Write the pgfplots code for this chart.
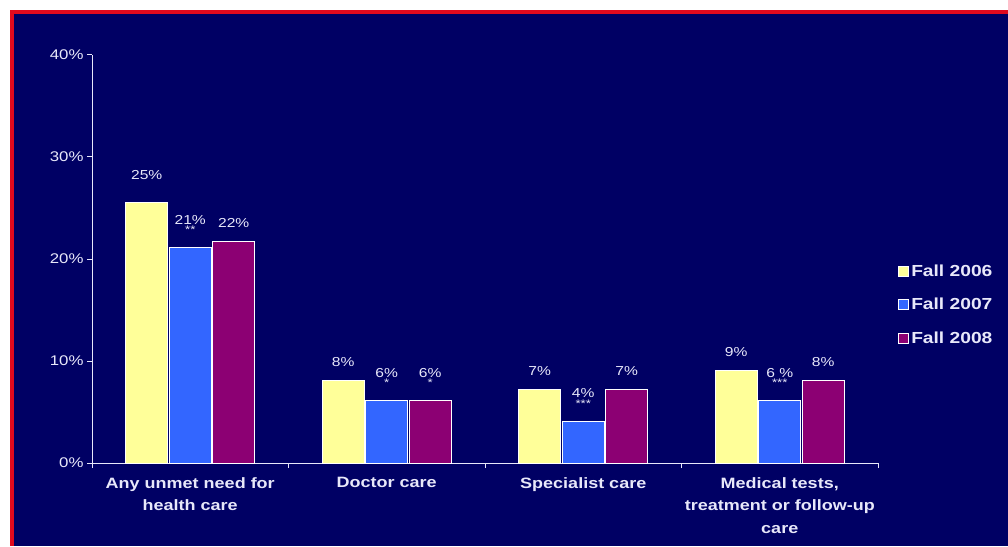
\documentclass[border=0pt]{standalone}
\usepackage{pgfplots}
\pgfplotsset{compat=1.18}
\usepackage{fontspec}
\setmainfont[FakeStretch=1.2]{Liberation Sans}
\definecolor{navy}{RGB}{0,0,100}
\definecolor{bordred}{RGB}{225,10,30}
\definecolor{txt}{RGB}{232,232,250}
\definecolor{yel}{RGB}{255,255,153}
\definecolor{blu}{RGB}{51,102,255}
\definecolor{pur}{RGB}{140,0,115}
\newcommand\lab[2]{\shortstack{#1\\[-1pt]{\fontsize{11}{11}\selectfont #2}}}
\begin{document}
\begin{tikzpicture}[x=1pt,y=1pt]
\fill[white] (0,0) rectangle (1008,546);
\fill[bordred] (10,0) rectangle (1008,536);
\fill[navy] (14,0) rectangle (1008,532);
\begin{axis}[
  at={(92pt,83pt)}, anchor=south west,
  scale only axis, width=786pt, height=408pt,
  xmin=-0.5, xmax=3.5, ymin=0, ymax=40,
  ybar=1.5pt, bar width=42pt,
  axis x line*=bottom, axis y line*=left,
  axis line style={txt, line width=1pt},
  tick style={txt, line width=1pt},
  tick align=outside, major tick length=5pt,
  xtick={-0.5,0.5,1.5,2.5,3.5},
  x tick label as interval,
  xticklabels={{Any unmet need for\\health care},{Doctor care},{Specialist care},{Medical tests,\\treatment or follow-up\\care}},
  x tick label style={font=\bfseries\fontsize{15}{22.5}\selectfont, align=center, text=txt, anchor=north, yshift=-6pt},
  ytick={0,10,20,30,40},
  yticklabel={\pgfmathprintnumber{\tick}\%},
  y tick label style={font=\fontsize{14}{16}\selectfont, text=txt},
  /pgf/number format/assume math mode=true,
  point meta=explicit symbolic,
  nodes near coords,
  every node near coord/.append style={font=\fontsize{13}{14}\selectfont, text=txt, yshift=10pt, align=center},
  legend style={at={(1.0255,0.490)}, anchor=north west, draw=none, fill=none, text=txt,
    font=\bfseries\fontsize{16}{18}\selectfont, row sep=16pt, inner sep=0pt},
  legend cell align=left,
  legend image code/.code={\draw[#1] (0pt,-5pt) rectangle (10pt,5pt);},
]
\addplot[fill=yel, draw=white, line width=1pt] coordinates {(0,25.5) [\lab{25\%}{\phantom{*}}] (1,8.1) [8\%] (2,7.2) [7\%] (3,9.1) [9\%]};
\addplot[fill=blu, draw=white, line width=1pt] coordinates {(0,21.1) [\lab{21\%}{**}] (1,6.1) [\lab{6\%}{*}] (2,4.1) [\lab{4\%}{***}] (3,6.1) [\lab{6 \%}{***}]};
\addplot[fill=pur, draw=white, line width=1pt] coordinates {(0,21.7) [22\%] (1,6.1) [\lab{6\%}{*}] (2,7.2) [7\%] (3,8.1) [8\%]};
\legend{Fall 2006, Fall 2007, Fall 2008}
\end{axis}
\end{tikzpicture}
\end{document}
